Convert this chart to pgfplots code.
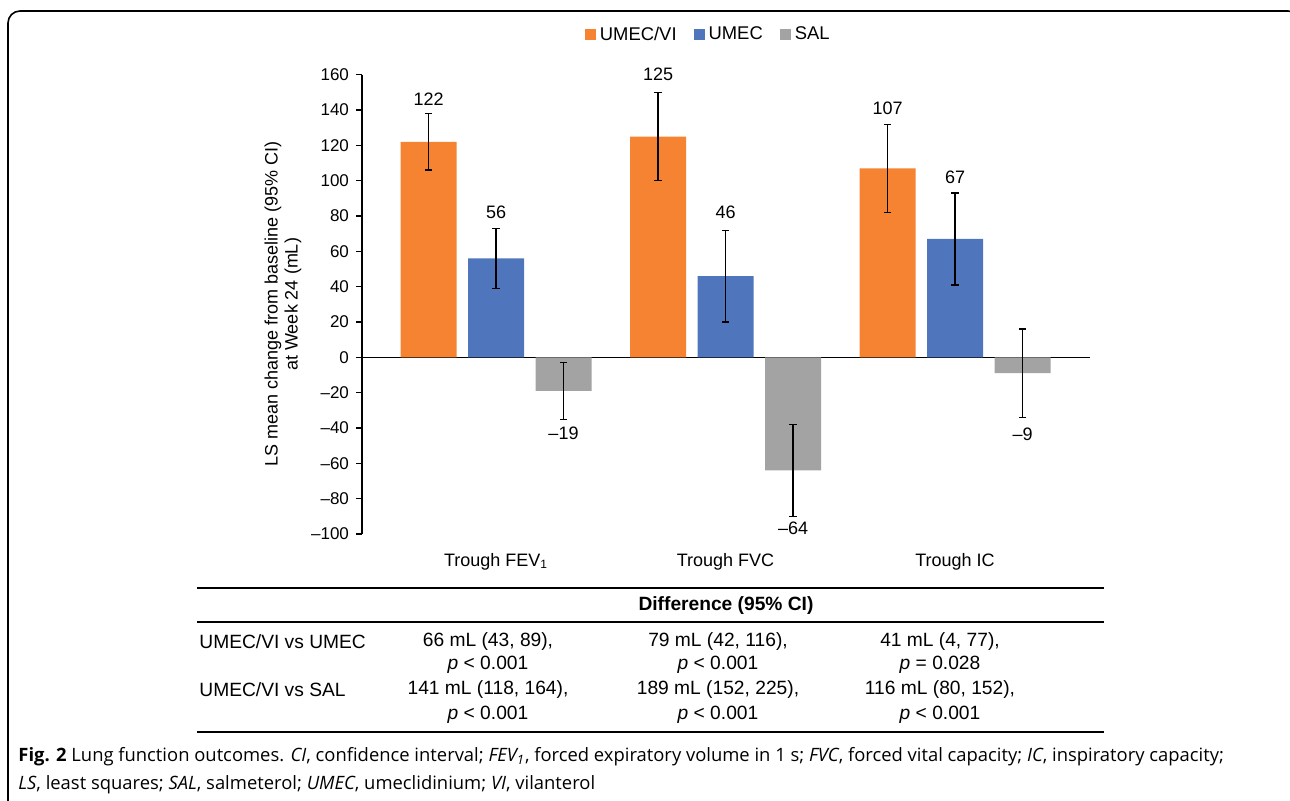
\documentclass[border=0pt]{standalone}
\usepackage{fontspec}
\setmainfont{Liberation Sans}
\newfontfamily\capfont{Open Sans}
\usepackage{pgfplots}
\pgfplotsset{compat=1.18}
\usepackage{pgfplotstable}
\definecolor{cUV}{RGB}{245,131,49}
\definecolor{cU}{RGB}{79,118,188}
\definecolor{cS}{RGB}{163,163,163}

% x = category position (0,1,2) plus the bar's offset within its group
\pgfplotstableread{
x y e
-0.294 122 16
0.706 125 25
1.706 107 25
}\umecvi
\pgfplotstableread{
x y e
0 56 17
1 46 26
2 67 26
}\umec
\pgfplotstableread{
x y e
0.294 -19 16
1.294 -64 26
2.294 -9 25
}\sal
\pgfplotstableread[col sep=comma]{
x,y,lab
-0.294,146,122
0,82,56
0.294,-43,–19
0.706,160,125
1,82,46
1.294,-97,–64
1.706,141,107
2,102,67
2.294,-43.5,–9
}\labels

\begin{document}
\begin{tikzpicture}
\useasboundingbox (0,0) rectangle (645pt,400.5pt);
\begin{scope}
\clip (0,0) rectangle (645pt,400.5pt);
\draw[line width=0.8pt, rounded corners=6pt] (4pt,-20pt) -- (4pt,395pt) -- (650pt,395pt) -- (650pt,-20pt);
\end{scope}
\begin{axis}[
  at={(181pt,133.5pt)}, anchor=south west,
  scale only axis, width=364pt, height=229.65pt,
  xmin=-0.584, xmax=2.588, ymin=-100, ymax=160,
  axis lines*=left,
  axis line style={-, line width=0.6pt},
  x axis line style={draw=none},
  xtick={0,1,2},
  xticklabels={Trough FEV\textsubscript{1}, Trough FVC, Trough IC},
  x tick style={draw=none},
  xticklabel style={font=\fontsize{9}{10}\selectfont, yshift=-3pt},
  ytick={-100,-80,...,160},
  yticklabels={–100,–80,–60,–40,–20,0,20,40,60,80,100,120,140,160},
  yticklabel style={font=\fontsize{8.5}{10}\selectfont},
  y tick style={black, line width=0.6pt},
  tick align=outside, major tick length=3pt,
  extra y ticks={0}, extra y tick labels={},
  extra y tick style={grid=major, major grid style={black, line width=0.8pt}, tick style={draw=none}},
  every axis y label/.style={at={(axis description cs:0,0.5)}, xshift=-39.5pt, rotate=90, anchor=center, align=center, font=\fontsize{9}{10}\selectfont},
  ylabel={LS mean change from baseline (95\% CI)\\at Week 24 (mL)},
  legend style={at={(0.477,1.0865)}, anchor=center, legend columns=3, draw=none, fill=none,
    font=\fontsize{9.2}{10}\selectfont,
    /tikz/every even column/.append style={column sep=6.5pt}},
  legend entries={UMEC/VI,UMEC,SAL},
]
\addplot[ybar, bar width=0.244, bar shift=0, fill=cUV, draw=none,
  legend image code/.code={\fill[cUV] (0pt,-2.75pt) rectangle (5.5pt,2.75pt);},
  error bars/.cd, y dir=both, y explicit,
  error bar style={black, line width=0.6pt},
  error mark options={black, line width=0.6pt, mark size=1.8pt, rotate=90}]
  table[x=x, y=y, y error=e]{\umecvi};
\addplot[ybar, bar width=0.244, bar shift=0, fill=cU, draw=none,
  legend image code/.code={\fill[cU] (0pt,-2.75pt) rectangle (5.5pt,2.75pt);},
  error bars/.cd, y dir=both, y explicit,
  error bar style={black, line width=0.6pt},
  error mark options={black, line width=0.6pt, mark size=1.8pt, rotate=90}]
  table[x=x, y=y, y error=e]{\umec};
\addplot[ybar, bar width=0.244, bar shift=0, fill=cS, draw=none,
  legend image code/.code={\fill[cS] (0pt,-2.75pt) rectangle (5.5pt,2.75pt);},
  error bars/.cd, y dir=both, y explicit,
  error bar style={black, line width=0.6pt},
  error mark options={black, line width=0.6pt, mark size=1.8pt, rotate=90}]
  table[x=x, y=y, y error=e]{\sal};
\addplot[draw=none, mark=none, nodes near coords, point meta=explicit symbolic,
  nodes near coords align={center},
  every node near coord/.append style={font=\fontsize{9}{10}\selectfont, inner sep=0pt}]
  table[x=x, y=y, meta=lab]{\labels};
\end{axis}
% table
\draw[line width=0.9pt] (98.5pt,106.5pt) -- (552pt,106.5pt);
\draw[line width=0.9pt] (98.5pt,89.5pt) -- (552pt,89.5pt);
\draw[line width=0.9pt] (98.5pt,34.5pt) -- (552pt,34.5pt);
\begin{scope}[every node/.style={font=\fontsize{9.6}{11}\selectfont, inner sep=0pt}]
\node at (363pt,97.5pt) {\textbf{Difference (95\% CI)}};
\node[anchor=west] at (99.5pt,79.5pt) {UMEC/VI vs UMEC};
\node[anchor=west] at (99.5pt,55.5pt) {UMEC/VI vs SAL};
\node at (244pt,79.5pt) {66 mL (43, 89),};
\node at (244pt,68pt) {\textit{p} < 0.001};
\node at (359pt,79.5pt) {79 mL (42, 116),};
\node at (359pt,68pt) {\textit{p} < 0.001};
\node at (470pt,79.5pt) {41 mL (4, 77),};
\node at (470pt,68pt) {\textit{p} = 0.028};
\node at (244pt,55.5pt) {141 mL (118, 164),};
\node at (244pt,43pt) {\textit{p} < 0.001};
\node at (359pt,55.5pt) {189 mL (152, 225),};
\node at (359pt,43pt) {\textit{p} < 0.001};
\node at (470pt,55.5pt) {116 mL (80, 152),};
\node at (470pt,43pt) {\textit{p} < 0.001};
\end{scope}
% caption
\begin{scope}[every node/.style={font=\capfont\fontsize{9.2}{10}\selectfont, inner sep=0pt, anchor=west}]
\node at (9pt,22pt) {\textbf{Fig. 2} Lung function outcomes. \textit{CI}, confidence interval; \textit{FEV\textsubscript{1}}, forced expiratory volume in 1 s; \textit{FVC}, forced vital capacity; \textit{IC}, inspiratory capacity;};
\node at (9pt,8pt) {\textit{LS}, least squares; \textit{SAL}, salmeterol; \textit{UMEC}, umeclidinium; \textit{VI}, vilanterol};
\end{scope}
\end{tikzpicture}
\end{document}
